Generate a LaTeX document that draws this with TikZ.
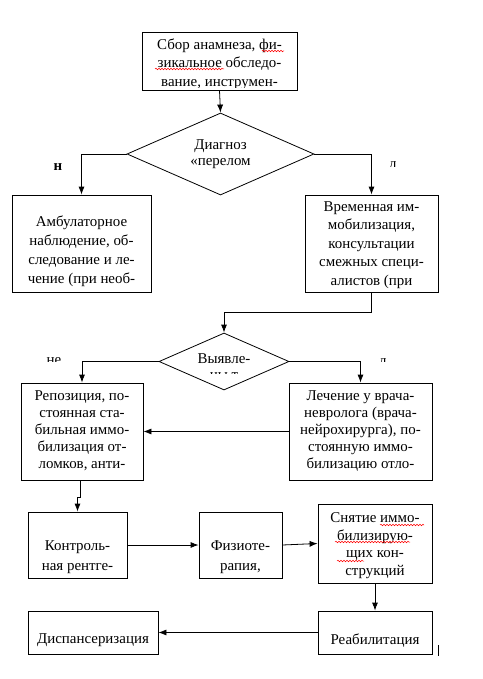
\documentclass[tikz,border=0pt]{standalone}
\usepackage{fontspec}
\setmainfont{Liberation Serif}
\usetikzlibrary{shapes.geometric,arrows.meta,decorations.pathmorphing}
\tikzset{
  blk/.style={draw,rectangle,inner sep=0pt,line width=0.8bp},
  rhomb/.style={draw,diamond,inner sep=0pt,line width=0.8bp},
  txt/.style={align=center,inner sep=0pt,anchor=north,font=\fontsize{15}{18.5}\selectfont},
  lbl/.style={inner sep=0pt,font=\fontsize{15}{18.5}\selectfont},
  con/.style={line width=0.8bp,->},
  spell/.style={draw=red,line width=0.5bp,decorate,decoration={snake,amplitude=0.8bp,segment length=3bp}}
}
\begin{document}
\begin{tikzpicture}[x=1bp,y=-1bp,>={Latex[length=8bp,width=6bp]}]
\useasboundingbox (0,0) rectangle (483,679);

%Bloecke
\node[blk,minimum width=155bp,minimum height=58bp] (anamnez) at (219.5,61) {};
\node[rhomb,minimum width=187bp,minimum height=82bp] (diag) at (220.5,154) {};
\node[blk,minimum width=139bp,minimum height=97bp] (ambul) at (81.5,243.5) {};
\node[blk,minimum width=133bp,minimum height=97bp] (vrem) at (371.5,243.5) {};
\node[rhomb,minimum width=130bp,minimum height=57bp] (vyyav) at (224,361.5) {};
\node[blk,minimum width=122bp,minimum height=97bp] (repoz) at (82,431.5) {};
\node[blk,minimum width=143bp,minimum height=97bp] (lech) at (360.5,431.5) {};
\node[blk,minimum width=99bp,minimum height=66bp] (kontr) at (77.5,545) {};
\node[blk,minimum width=83bp,minimum height=66bp] (fizio) at (240.5,545) {};
\node[blk,minimum width=114bp,minimum height=79bp] (snyat) at (375,543.5) {};
\node[blk,minimum width=114bp,minimum height=43bp] (reab) at (375,632.5) {};
\node[blk,minimum width=130bp,minimum height=43bp] (disp) at (93,632.5) {};

%Texte
\begin{scope}
\clip (142,32) rectangle (297,88);
\node[txt] (tanamnez) at (219.5,38.5) {Сбор анамнеза, фи-\\зикальное обследо-\\вание, инструмен-};
\end{scope}
\node[txt,font=\fontsize{15}{16}\selectfont] (tdiag) at (220.5,139.5) {Диагноз\\«перелом};
\begin{scope}
\clip (12,195) rectangle (151,289);
\node[txt,font=\fontsize{15}{19}\selectfont] (tambul) at (81.5,215.5) {Амбулаторное\\наблюдение, об-\\следование и ле-\\чение (при необ-};
\end{scope}
\begin{scope}
\clip (305,195) rectangle (438,290);
\node[txt] (tvrem) at (371.5,201.5) {Временная им-\\мобилизация,\\консультации\\смежных специ-\\алистов (при};
\end{scope}
\begin{scope}
\clip (159,333) rectangle (289,373);
\node[txt,font=\fontsize{15}{16}\selectfont] (tvyyav) at (224,353.5) {Выявле-\\ны т};
\end{scope}
\begin{scope}
\clip (21,383) rectangle (143,478);
\node[txt,font=\fontsize{15}{17}\selectfont] (trepoz) at (82,390.5) {Репозиция, по-\\стоянная ста-\\бильная иммо-\\билизация от-\\ломков, анти-};
\end{scope}
\begin{scope}
\clip (289,383) rectangle (432,478);
\node[txt,font=\fontsize{15}{17}\selectfont] (tlech) at (360.5,390.5) {Лечение у врача-\\невролога (врача-\\нейрохирурга), по-\\стоянную иммо-\\билизацию отло-};
\end{scope}
\node[txt,font=\fontsize{15}{20}\selectfont] (tkontr) at (77.5,540.5) {Контроль-\\ная рентге-};
\node[txt,font=\fontsize{15}{20}\selectfont] (tfizio) at (240.5,540.5) {Физиоте-\\рапия,};
\node[txt,font=\fontsize{15}{17.7}\selectfont] (tsnyat) at (375,512.5) {Снятие иммо-\\билизирую-\\щих кон-\\струкций};
\node[txt] (treab) at (375,633.5) {Реабилитация};
\node[txt] (tdisp) at (93,633.5) {Диспансеризация};

%Beschriftung
\node[lbl] (lnet) at (58,167) {\textbf{н}};
\begin{scope}
\clip (380,150) rectangle (410,166);
\node[lbl,anchor=base] (lda) at (393,168.5) {д};
\end{scope}
\begin{scope}
\clip (40,350) rectangle (70,361);
\node[lbl,anchor=base] (lne) at (54,364.5) {не};
\end{scope}
\begin{scope}
\clip (370,350) rectangle (400,361);
\node[lbl,anchor=base] (lda2) at (383,365.5) {д};
\end{scope}

%Pfeile
\draw[con] (anamnez.south) -- (diag.north);
\draw[con] (diag.west) -| (ambul.north);
\draw[con] (diag.east) -| (vrem.north);
\draw[con] (vrem.south) -- ++(0,20) -| (vyyav.north);
\draw[con] (vyyav.west) -| (repoz.north);
\draw[con] (vyyav.east) -| (lech.north);
\draw[con] (lech.west) -- (repoz.east);
\draw[con] ([xshift=-2bp]repoz.south) -- ++(0,17) -| (kontr.north);
\draw[con] (kontr.east) -- (fizio.west);
\draw[con] (fizio.east) -- (snyat.west);
\draw[con] (snyat.south) -- (reab.north);
\draw[con] (reab.west) -- (disp.east);

%Rechtschreibung
\draw[spell] (262,51) -- (284,51);
\draw[spell] (155,69) -- (224,69);
\draw[spell] (380,525) -- (424,525);
\draw[spell] (335,542) -- (410,542);
\draw[spell] (337,561) -- (364,561);

\draw[line width=0.8bp] (438,645) -- (438,656);
\end{tikzpicture}
\end{document}
